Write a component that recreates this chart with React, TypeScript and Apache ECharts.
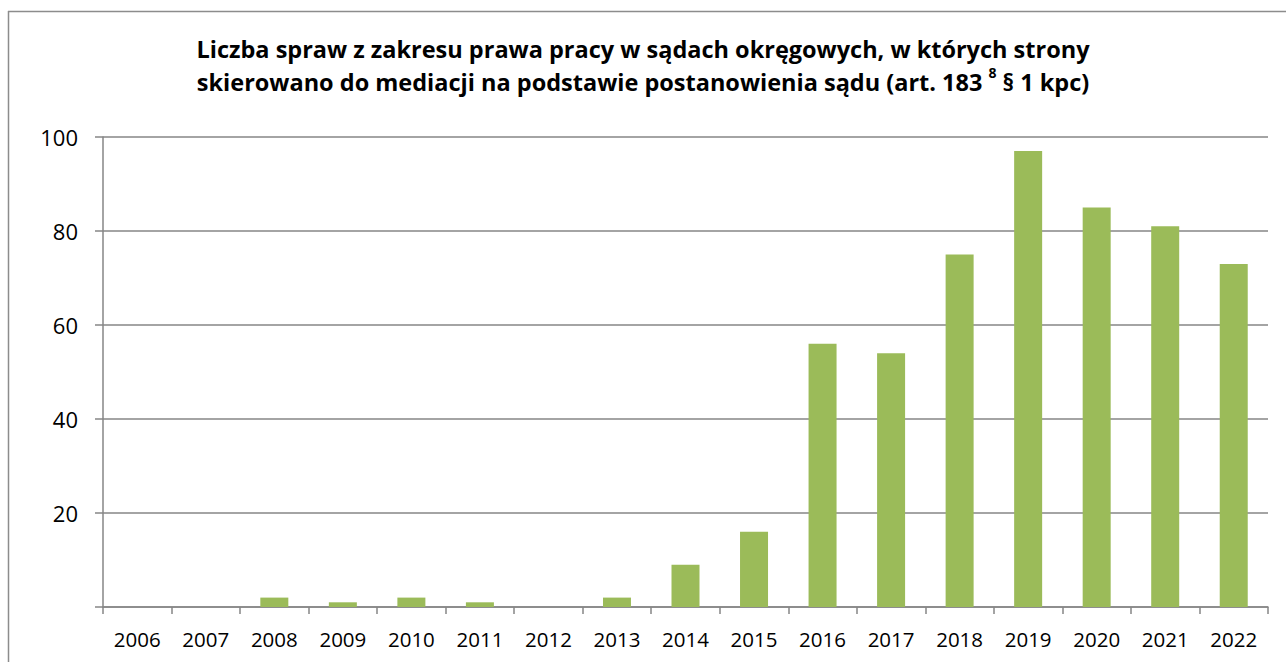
import React, { useEffect, useRef } from "react";
import * as echarts from "echarts";

const years = ["2006", "2007", "2008", "2009", "2010", "2011", "2012", "2013", "2014", "2015", "2016", "2017", "2018", "2019", "2020", "2021", "2022"];
const cases = [0, 0, 2, 1, 2, 1, 0, 2, 9, 16, 56, 54, 75, 97, 85, 81, 73];
const titleLine1 = "Liczba spraw z zakresu prawa pracy w sądach okręgowych, w których strony";
const titleLine2a = "skierowano do mediacji na podstawie postanowienia sądu (art. 183 ";
const titleSup = "8";
const titleLine2b = " § 1 kpc)";

export default function App() {
  const ref = useRef<HTMLDivElement>(null);
  useEffect(() => {
    if (!ref.current) return;
    const chart = echarts.init(ref.current, null, { renderer: "svg" });
    const font = "'Open Sans', 'Liberation Sans', sans-serif";
    chart.setOption({
      animation: false,
      backgroundColor: "#ffffff",
      title: {
        left: "center",
        top: 27,
        text: `{b|${titleLine1}}\n{b|${titleLine2a}}{s|${titleSup}}{b|${titleLine2b}}`,
        textStyle: {
          rich: {
            b: { fontFamily: font, fontWeight: "bold", fontSize: 23.5, color: "#000", lineHeight: 33 },
            s: { fontFamily: font, fontWeight: "bold", fontSize: 14, color: "#000", lineHeight: 33, verticalAlign: "top", padding: [0, 0, 6, 0] },
          },
        },
      },
      graphic: [
        { type: "line", shape: { x1: 8, y1: 11.5, x2: 1286, y2: 11.5 }, style: { stroke: "#8c8c8c", lineWidth: 1.5 } },
        { type: "line", shape: { x1: 8.5, y1: 11, x2: 8.5, y2: 662 }, style: { stroke: "#8c8c8c", lineWidth: 1.5 } },
      ],
      grid: { left: 103, top: 137, width: 1165, height: 470, containLabel: false },
      xAxis: {
        type: "category",
        data: years,
        axisLine: { lineStyle: { color: "#868686", width: 1.5 } },
        axisTick: { show: true, length: 7, lineStyle: { color: "#868686", width: 1.5 } },
        axisLabel: { fontFamily: font, fontSize: 20.5, color: "#000", margin: 21 },
      },
      yAxis: {
        type: "value",
        min: 0,
        max: 100,
        interval: 20,
        axisLine: { show: true, lineStyle: { color: "#868686", width: 1.5 } },
        axisTick: { show: true, length: 8, lineStyle: { color: "#868686", width: 1.5 } },
        axisLabel: {
          fontFamily: font,
          fontSize: 22,
          color: "#000",
          margin: 25,
          formatter: (v: number) => (v === 0 ? "" : String(v)),
        },
        splitLine: { lineStyle: { color: "#868686", width: 1.5 } },
      },
      series: [
        {
          type: "bar",
          data: cases,
          barWidth: 28,
          itemStyle: { color: "#9BBB59" },
        },
      ],
    });
    return () => chart.dispose();
  }, []);
  return <div ref={ref} style={{ position: "fixed", left: 0, top: 0, width: 1286, height: 662 }} />;
}
